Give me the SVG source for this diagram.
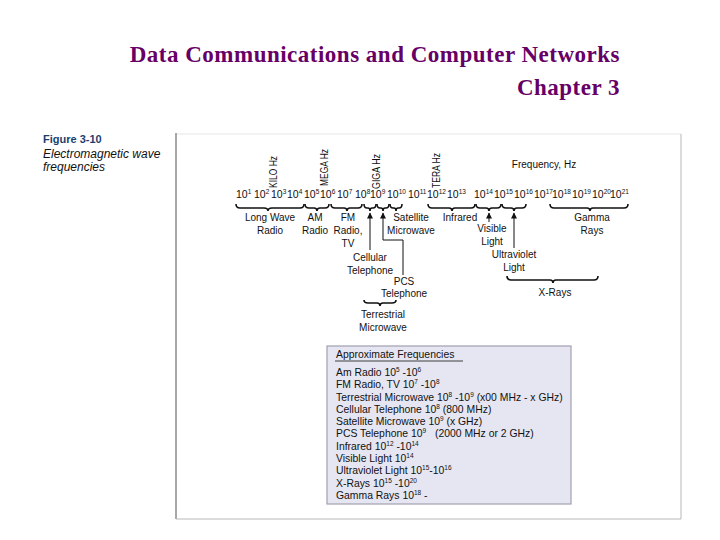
<svg xmlns="http://www.w3.org/2000/svg" width="720" height="540" viewBox="0 0 720 540">
<defs>
<style>
.title{font-family:"Liberation Serif","Times New Roman",serif;font-weight:bold;font-size:23px;letter-spacing:0.5px;fill:#660066;text-anchor:end}
.lbl{font-family:"Liberation Sans",Arial,sans-serif;font-size:10px;fill:#111;text-anchor:middle}
.exp{font-family:"Liberation Sans",Arial,sans-serif;font-size:10.5px;fill:#111}
.sup{font-size:6.5px}
.rot{font-family:"Liberation Sans",Arial,sans-serif;font-size:11px;fill:#111}
.tbl{font-family:"Liberation Sans",Arial,sans-serif;font-size:10.4px;fill:#111}
.brace{fill:none;stroke:#111;stroke-width:1.6}
.arr{fill:none;stroke:#111;stroke-width:1}
</style>
<marker id="ah" viewBox="0 0 10 10" refX="9" refY="5" markerWidth="7" markerHeight="6" orient="auto" markerUnits="userSpaceOnUse">
<path d="M0,0 L10,5 L0,10 Z" fill="#111"/>
</marker>
</defs>
<rect width="720" height="540" fill="#fff"/>

<g id="title">
<text class="title" x="620" y="62">Data Communications and Computer Networks</text>
<text class="title" x="620" y="95">Chapter 3</text>
</g>

<g id="caption">
<text x="43" y="143" style="font-family:'Liberation Sans',Arial,sans-serif;font-weight:bold;font-size:11px;fill:#1c3f6e">Figure 3-10</text>
<text x="43" y="158" style="font-family:'Liberation Sans',Arial,sans-serif;font-style:italic;font-size:12px;fill:#111">Electromagnetic wave</text>
<text x="43" y="171" style="font-family:'Liberation Sans',Arial,sans-serif;font-style:italic;font-size:12px;fill:#111">frequencies</text>
</g>

<g id="frame">
<line x1="176" y1="134" x2="681" y2="134" stroke="#e6e6e6" stroke-width="1"/>
<line x1="176" y1="133" x2="176" y2="519" stroke="#a8a8a8" stroke-width="2"/>
<line x1="681" y1="134" x2="681" y2="519" stroke="#b8b8b8" stroke-width="1"/>
<line x1="176" y1="519" x2="681" y2="519" stroke="#b8b8b8" stroke-width="1"/>
</g>

<g id="scale-units">
<text class="rot" transform="translate(277,188) rotate(-90)" textLength="32" lengthAdjust="spacingAndGlyphs">KILO Hz</text>
<text class="rot" transform="translate(328,186) rotate(-90)" textLength="37" lengthAdjust="spacingAndGlyphs">MEGA Hz</text>
<text class="rot" transform="translate(380,189) rotate(-90)" textLength="35" lengthAdjust="spacingAndGlyphs">GIGA Hz</text>
<text class="rot" transform="translate(440,188) rotate(-90)" textLength="35" lengthAdjust="spacingAndGlyphs">TERA Hz</text>
<text class="lbl" x="544" y="168">Frequency, Hz</text>
</g>

<g id="exponents">
<text class="exp" x="236" y="198">10<tspan class="sup" dy="-4">1</tspan></text>
<text class="exp" x="254" y="198">10<tspan class="sup" dy="-4">2</tspan></text>
<text class="exp" x="271" y="198">10<tspan class="sup" dy="-4">3</tspan></text>
<text class="exp" x="287" y="198">10<tspan class="sup" dy="-4">4</tspan></text>
<text class="exp" x="304" y="198">10<tspan class="sup" dy="-4">5</tspan></text>
<text class="exp" x="320" y="198">10<tspan class="sup" dy="-4">6</tspan></text>
<text class="exp" x="337" y="198">10<tspan class="sup" dy="-4">7</tspan></text>
<text class="exp" x="355" y="198">10<tspan class="sup" dy="-4">8</tspan></text>
<text class="exp" x="370" y="198">10<tspan class="sup" dy="-4">9</tspan></text>
<text class="exp" x="387" y="198">10<tspan class="sup" dy="-4">10</tspan></text>
<text class="exp" x="408" y="198">10<tspan class="sup" dy="-4">11</tspan></text>
<text class="exp" x="427" y="198">10<tspan class="sup" dy="-4">12</tspan></text>
<text class="exp" x="447" y="198">10<tspan class="sup" dy="-4">13</tspan></text>
<text class="exp" x="474" y="198">10<tspan class="sup" dy="-4">14</tspan></text>
<text class="exp" x="494" y="198">10<tspan class="sup" dy="-4">15</tspan></text>
<text class="exp" x="514" y="198">10<tspan class="sup" dy="-4">16</tspan></text>
<text class="exp" x="534" y="198">10<tspan class="sup" dy="-4">17</tspan></text>
<text class="exp" x="552" y="198">10<tspan class="sup" dy="-4">18</tspan></text>
<text class="exp" x="572" y="198">10<tspan class="sup" dy="-4">19</tspan></text>
<text class="exp" x="592" y="198">10<tspan class="sup" dy="-4">20</tspan></text>
<text class="exp" x="610" y="198">10<tspan class="sup" dy="-4">21</tspan></text>
</g>

<g id="connectors">
<path class="brace" d="M236,204 Q236,208 240,208 L264,208 Q268,208 268,211 Q268,208 272,208 L300,208 Q304,208 304,204"/>
<path class="brace" d="M305,204 Q305,208 309,208 L314,208 Q317,208 317,211 Q317,208 320,208 L325,208 Q329,208 329,204"/>
<path class="brace" d="M331,204 Q331,208 335,208 L344,208 Q347,208 347,211 Q347,208 350,208 L358,208 Q362,208 362,204"/>
<path class="brace" d="M364,204 Q364,208 367,208 L368,208 Q370,208 370,211 Q370,208 372,208 L373,208 Q376,208 376,204"/>
<path class="brace" d="M377,204 Q377,208 380,208 L381,208 Q383,208 383,211 Q383,208 385,208 L386,208 Q389,208 389,204"/>
<path class="brace" d="M390,204 Q390,208 393,208 L394,208 Q396,208 396,211 Q396,208 398,208 L399,208 Q402,208 402,204"/>
<path class="brace" d="M428,204 Q428,208 432,208 L449,208 Q452,208 452,211 Q452,208 455,208 L471,208 Q475,208 475,204"/>
<path class="brace" d="M476,204 Q476,208 480,208 L486,208 Q489,208 489,211 Q489,208 492,208 L497,208 Q501,208 501,204"/>
<path class="brace" d="M502,204 Q502,208 506,208 L511,208 Q514,208 514,211 Q514,208 517,208 L522,208 Q526,208 526,204"/>
<path class="brace" d="M550,204 Q550,208 554,208 L587,208 Q590,208 590,211 Q590,208 593,208 L624,208 Q628,208 628,204"/>
<path class="brace" d="M507,276 Q507,280 511,280 L550,280 Q553,280 553,283 Q553,280 556,280 L594,280 Q598,280 598,276"/>
<path class="brace" d="M364,300 Q364,303 368,303 L377,303 Q380,303 380,306 Q380,303 383,303 L392,303 Q396,303 396,300"/>
<polyline class="arr" points="370,250 370,213" marker-end="url(#ah)"/>
<polyline class="arr" points="403,275 403,240 383,240 383,213" marker-end="url(#ah)"/>
<polyline class="arr" points="489,222 489,213" marker-end="url(#ah)"/>
<polyline class="arr" points="514,248 514,213" marker-end="url(#ah)"/>
</g>

<g id="long-wave"><text class="lbl" x="270" y="221">Long Wave</text><text class="lbl" x="270" y="234">Radio</text></g>
<g id="am"><text class="lbl" x="315" y="221">AM</text><text class="lbl" x="315" y="234">Radio</text></g>
<g id="fm"><text class="lbl" x="348" y="221">FM</text><text class="lbl" x="348" y="234">Radio,</text><text class="lbl" x="348" y="247">TV</text></g>
<g id="cellular"><text class="lbl" x="370" y="261">Cellular</text><text class="lbl" x="370" y="274">Telephone</text></g>
<g id="pcs"><text class="lbl" x="404" y="285">PCS</text><text class="lbl" x="404" y="297">Telephone</text></g>
<g id="terrestrial"><text class="lbl" x="383" y="318">Terrestrial</text><text class="lbl" x="383" y="331">Microwave</text></g>
<g id="satellite"><text class="lbl" x="411" y="221">Satellite</text><text class="lbl" x="411" y="234">Microwave</text></g>
<g id="infrared"><text class="lbl" x="460" y="221">Infrared</text></g>
<g id="visible"><text class="lbl" x="492" y="232">Visible</text><text class="lbl" x="492" y="245">Light</text></g>
<g id="ultraviolet"><text class="lbl" x="514" y="258">Ultraviolet</text><text class="lbl" x="514" y="271">Light</text></g>
<g id="gamma"><text class="lbl" x="592" y="221">Gamma</text><text class="lbl" x="592" y="234">Rays</text></g>
<g id="xrays"><text class="lbl" x="555" y="296">X-Rays</text></g>

<g id="freq-table">
<rect x="327" y="346" width="244" height="158" fill="#e6e6f2" stroke="#a0a0b0" stroke-width="1.2"/>
<text class="tbl" x="336" y="358">Approximate Frequencies</text>
<line x1="335" y1="361" x2="463" y2="361" stroke="#111" stroke-width="0.8"/>
<text class="tbl" x="336" y="376">Am Radio 10<tspan class="sup" dy="-4">5</tspan><tspan dy="4"> -10</tspan><tspan class="sup" dy="-4">6</tspan></text>
<text class="tbl" x="336" y="388">FM Radio, TV 10<tspan class="sup" dy="-4">7</tspan><tspan dy="4"> -10</tspan><tspan class="sup" dy="-4">8</tspan></text>
<text class="tbl" x="336" y="401">Terrestrial Microwave 10<tspan class="sup" dy="-4">8</tspan><tspan dy="4"> -10</tspan><tspan class="sup" dy="-4">9</tspan><tspan dy="4"> (x00 MHz - x GHz)</tspan></text>
<text class="tbl" x="336" y="413">Cellular Telephone 10<tspan class="sup" dy="-4">8</tspan><tspan dy="4"> (800 MHz)</tspan></text>
<text class="tbl" x="336" y="425">Satellite Microwave 10<tspan class="sup" dy="-4">9</tspan><tspan dy="4"> (x GHz)</tspan></text>
<text class="tbl" x="336" y="437">PCS Telephone 10<tspan class="sup" dy="-4">9</tspan><tspan dy="4" dx="6"> (2000 MHz or 2 GHz)</tspan></text>
<text class="tbl" x="336" y="450">Infrared 10<tspan class="sup" dy="-4">12</tspan><tspan dy="4"> -10</tspan><tspan class="sup" dy="-4">14</tspan></text>
<text class="tbl" x="336" y="462">Visible Light 10<tspan class="sup" dy="-4">14</tspan></text>
<text class="tbl" x="336" y="474">Ultraviolet Light 10<tspan class="sup" dy="-4">15</tspan><tspan dy="4">-10</tspan><tspan class="sup" dy="-4">16</tspan></text>
<text class="tbl" x="336" y="487">X-Rays 10<tspan class="sup" dy="-4">15</tspan><tspan dy="4"> -10</tspan><tspan class="sup" dy="-4">20</tspan></text>
<text class="tbl" x="336" y="499">Gamma Rays 10<tspan class="sup" dy="-4">18</tspan><tspan dy="4"> -</tspan></text>
</g>
</svg>
